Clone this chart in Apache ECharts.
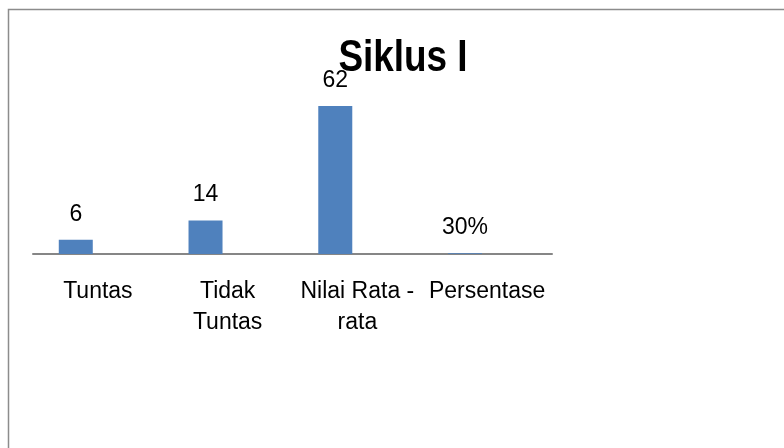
<!DOCTYPE html>
<html><head><meta charset="utf-8">
<script src="https://cdn.jsdelivr.net/npm/echarts@6/dist/echarts.min.js"></script>
<style>html,body{margin:0;padding:0;background:#fff}#c{width:784px;height:448px}</style>
</head><body><div id="c"></div>
<script>
const categories = ['Tuntas', 'Tidak\nTuntas', 'Nilai Rata -\nrata', 'Persentase'];
const siklusValues = [6, 14, 62, 0.3];
const valueLabels = ['6', '14', '62', '30%'];
const titleText = 'Siklus I';
const FONT = '"Liberation Sans", Arial, sans-serif';

const chart = echarts.init(document.getElementById('c'));
chart.setOption({
  animation: false,
  backgroundColor: '#fff',
  graphic: [{
    type: 'rect', shape: { x: 8.5, y: 9.5, width: 900, height: 600 }, z: -1,
    style: { fill: 'none', stroke: '#8c8c8c', lineWidth: 1.5 }
  }, {
    type: 'text', x: 403, y: 81, scaleX: 0.82, z: 10,
    style: {
      text: titleText, align: 'center', verticalAlign: 'bottom',
      font: 'bold 45px ' + FONT, fill: '#000'
    }
  }],
  grid: { left: 33, right: 232, top: 87, bottom: 194 },
  xAxis: {
    type: 'category', data: categories,
    axisLine: { lineStyle: { color: '#868686', width: 2 } },
    axisTick: { show: false },
    axisLabel: { fontFamily: FONT, fontSize: 23, color: '#000', margin: 22, lineHeight: 31, interval: 0 }
  },
  yAxis: { type: 'value', min: 0, max: 70, show: false, splitLine: { show: false } },
  series: [{
    type: 'bar', data: siklusValues, barWidth: 34, barGap: '30%',
    itemStyle: { color: '#4f81bd' },
    label: {
      show: true, position: 'top', distance: 14,
      formatter: p => valueLabels[p.dataIndex],
      fontFamily: FONT, fontSize: 23, color: '#000'
    }
  }, {
    type: 'bar', data: [null, null, null, null], barWidth: 34
  }]
});
</script></body></html>
